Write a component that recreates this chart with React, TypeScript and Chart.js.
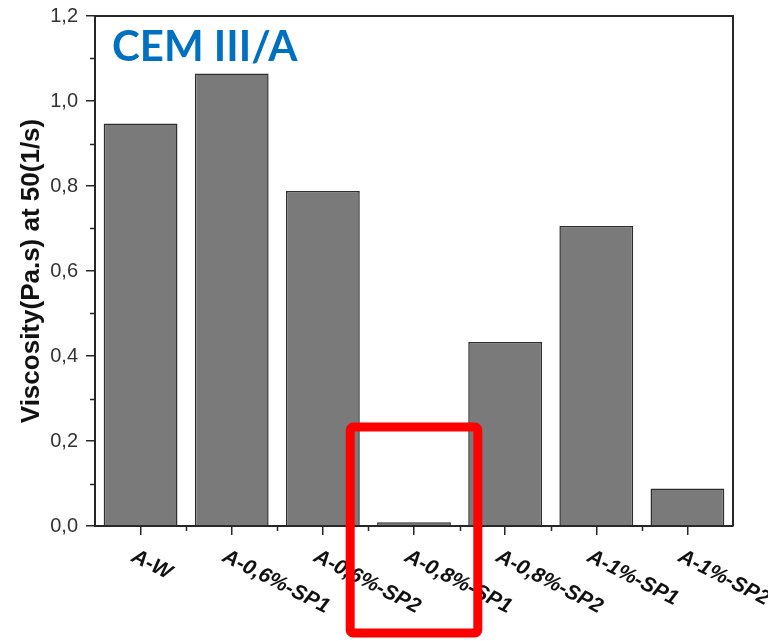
import { useEffect, useRef } from 'react';
import { Chart, registerables } from 'chart.js';

Chart.register(...registerables);

// Mixes and their apparent viscosity at a shear rate of 50 1/s
const categories = ['A-W', 'A-0,6%-SP1', 'A-0,6%-SP2', 'A-0,8%-SP1', 'A-0,8%-SP2', 'A-1%-SP1', 'A-1%-SP2'];
const viscosity = [0.947, 1.065, 0.788, 0.009, 0.433, 0.706, 0.088];

const yMin = 0;
const yMax = 1.2;
const yStep = 0.2;
const yMinorTicks = [0.1, 0.3, 0.5, 0.7, 0.9, 1.1];

const chartTitle = 'CEM III/A';
const yAxisTitle = 'Viscosity(Pa.s) at 50(1/s)';
const highlighted = 'A-0,8%-SP1';
const highlightTop = 0.233;

const INK = '#262626';
const SANS = '"Liberation Sans", Arial, Helvetica, sans-serif';

const decorations = {
  id: 'decorations',
  afterDraw(chart: any) {
    const { ctx, chartArea: a, scales } = chart;
    const xs = scales.x;
    const ys = scales.y;
    ctx.save();

    // closing frame lines (top and right)
    ctx.strokeStyle = INK;
    ctx.lineWidth = 2;
    ctx.beginPath();
    ctx.moveTo(a.left, a.top);
    ctx.lineTo(a.right, a.top);
    ctx.lineTo(a.right, a.bottom);
    ctx.stroke();

    // minor ticks
    ctx.lineWidth = 1.5;
    ctx.beginPath();
    for (const v of yMinorTicks) {
      const py = Math.round(ys.getPixelForValue(v)) + 0.5;
      ctx.moveTo(a.left - 5, py);
      ctx.lineTo(a.left, py);
    }
    for (let i = 1; i < categories.length; i++) {
      const px = Math.round(xs.getPixelForValue(i - 0.5)) + 0.5;
      ctx.moveTo(px, a.bottom);
      ctx.lineTo(px, a.bottom + 5);
    }
    ctx.stroke();

    // slanted category labels
    ctx.fillStyle = '#111';
    ctx.font = `italic bold 21px ${SANS}`;
    ctx.textAlign = 'left';
    ctx.textBaseline = 'top';
    categories.forEach((label, i) => {
      const px = xs.getPixelForValue(i);
      ctx.save();
      ctx.translate(px - 3, a.bottom + 20);
      ctx.rotate((27 * Math.PI) / 180);
      ctx.fillText(label, 0, 0);
      ctx.restore();
    });

    // panel title
    ctx.fillStyle = '#0070C0';
    ctx.font = `bold 42px Lato, "Open Sans", sans-serif`;
    ctx.textAlign = 'left';
    ctx.textBaseline = 'alphabetic';
    ctx.fillText(chartTitle, a.left + 17, a.top + 45);

    // highlight frame around one mix
    const idx = categories.indexOf(highlighted);
    const cx = xs.getPixelForValue(idx);
    const cw = xs.getPixelForValue(1) - xs.getPixelForValue(0);
    const top = ys.getPixelForValue(highlightTop);
    const left = cx - cw * 0.7;
    const w = cw * 1.4;
    const h = a.bottom + 107 - top;
    ctx.strokeStyle = '#ff0000';
    ctx.lineWidth = 9;
    ctx.lineJoin = 'round';
    ctx.beginPath();
    ctx.roundRect(left, top, w, h, 3);
    ctx.stroke();

    ctx.restore();
  },
};

export default function App() {
  const canvasRef = useRef<HTMLCanvasElement>(null);

  useEffect(() => {
    const canvas = canvasRef.current;
    if (!canvas) return;
    const chart = new Chart(canvas, {
      type: 'bar',
      data: {
        labels: categories,
        datasets: [
          {
            data: viscosity,
            backgroundColor: '#7a7a7a',
            borderColor: '#2e2e2e',
            borderWidth: 1.5,
            barPercentage: 0.81,
            categoryPercentage: 1,
          },
        ],
      },
      options: {
        responsive: false,
        animation: false,
        devicePixelRatio: 1,
        layout: { padding: { top: 16, right: 35, left: 0, bottom: 0 } },
        plugins: {
          legend: { display: false },
          tooltip: { enabled: false },
        },
        scales: {
          x: {
            type: 'category',
            offset: true,
            border: { display: true, color: INK, width: 2 },
            grid: {
              offset: false,
              drawOnChartArea: false,
              drawTicks: true,
              tickLength: 9,
              color: INK,
              lineWidth: 1.5,
            },
            ticks: { display: false },
            afterFit: (scale: any) => {
              scale.height = 115;
              scale.paddingLeft = 0;
              scale.paddingRight = 0;
            },
          },
          y: {
            type: 'linear',
            min: yMin,
            max: yMax,
            border: { display: true, color: INK, width: 2 },
            grid: {
              drawOnChartArea: false,
              drawTicks: true,
              tickLength: 9,
              color: INK,
              lineWidth: 1.5,
            },
            ticks: {
              stepSize: yStep,
              padding: 8,
              color: '#333',
              font: { family: SANS, size: 20 },
              callback: (v: any) => Number(v).toFixed(1).replace('.', ','),
            },
            title: {
              display: true,
              text: yAxisTitle,
              color: '#111',
              font: { family: SANS, size: 26, weight: 'bold' },
              padding: { top: 16, bottom: 0 },
            },
            afterFit: (scale: any) => {
              scale.width = 95;
              scale.paddingTop = 0;
              scale.paddingBottom = 0;
            },
          },
        },
      },
      plugins: [decorations],
    });
    return () => chart.destroy();
  }, []);

  return (
    <div style={{ position: 'absolute', left: 0, top: 0, width: 768, height: 641, background: '#fff' }}>
      <canvas ref={canvasRef} width={768} height={641} style={{ width: 768, height: 641 }} />
    </div>
  );
}
